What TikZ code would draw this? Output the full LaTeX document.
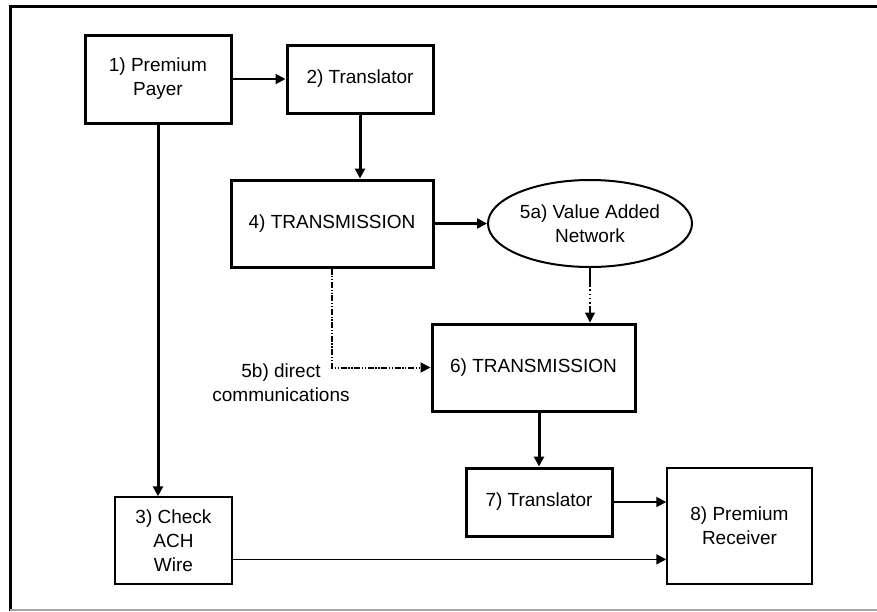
\documentclass[tikz,border=0pt]{standalone}
\usepackage{fontspec}
\setmainfont{Liberation Sans}
\usetikzlibrary{shapes.geometric,arrows.meta,calc}

\begin{document}
\begin{tikzpicture}[x=0.75pt, y=-0.75pt,
    font=\fontsize{14.25}{18}\selectfont,
    stage/.style={draw, line width=2.25pt, align=center, inner sep=0pt},
    thinstage/.style={draw, line width=1.1pt, align=center, inner sep=0pt},
    flow/.style={-{Triangle[length=7.5pt, width=7.5pt]}},
    link/.style={flow, line width=2.25pt},
    thinlink/.style={flow, line width=1.4pt}]
    \useasboundingbox (0,0) rectangle (877,611);

    % Frame
    \draw[line width=2.25pt] (10,611) -- (10,6) -- (877,6);
    \draw[line width=0.8pt, black!35] (10,610) -- (877,610);

    % Components
    \node[stage, minimum width=109.5pt, minimum height=66pt] (payer) at (158,79) {1) Premium\\Payer};
    \node[stage, minimum width=109.5pt, minimum height=51pt] (trans1) at (360,79) {2) Translator};
    \node[stage, minimum width=151.5pt, minimum height=65.25pt] (tx1) at (332,223.5) {4) TRANSMISSION};
    \node[ellipse, draw, line width=1.5pt, align=center, inner sep=0pt,
          minimum width=153pt, minimum height=65.25pt] (van) at (590,223.5) {5a) Value Added\\Network};
    \node[stage, minimum width=152.25pt, minimum height=65.25pt] (tx2) at (533.5,367.5) {6) TRANSMISSION};
    \node[stage, minimum width=109.5pt, minimum height=51pt] (trans2) at (539,502) {7) Translator};
    \node[thinstage, minimum width=108.75pt, minimum height=87pt] (receiver) at (739.5,526) {8) Premium\\Receiver};
    \node[thinstage, minimum width=87.75pt, minimum height=65.25pt] (check) at (173.5,540.5) {3) Check\\ACH\\Wire};
    \node[align=center, inner sep=0pt] (direct) at (281,383) {5b) direct\\communications};
    \coordinate (checkout) at ($(check.north east)!0.713!(check.south east)$);

    % Connections
    \draw[link, line width=1.5pt] (payer) -- (trans1);
    \draw[link] (trans1.south) -- (trans1.south |- tx1.north);
    \draw[link] (tx1) -- (van);
    \draw[link] (payer.south) -- (payer.south |- check.north);

    % Direct and VAN routes into 6
    \draw[flow, line width=1.5pt, dash pattern=on 4.5pt off 1.2pt on 1pt off 1.2pt on 1pt off 1.2pt]
        (tx1.south) |- (tx2.west);
    \draw[flow, line width=0.9pt, dash pattern=on 14pt off 2pt on 1.2pt off 2pt on 1.2pt off 2pt on 1.2pt off 2pt on 1.2pt off 2pt]
        (van.south) -- (van.south |- tx2.north);

    % Down to the receiver
    \draw[link] (trans2.north |- tx2.south) -- (trans2.north);
    \draw[thinlink] (trans2.east) -- (trans2.east -| receiver.west);
    \draw[thinlink, line width=1.1pt] (checkout) -- (checkout -| receiver.west);
\end{tikzpicture}
\end{document}
